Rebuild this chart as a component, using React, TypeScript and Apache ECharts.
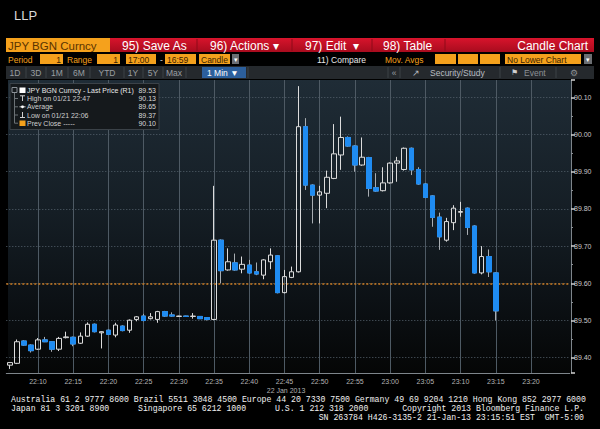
import React, { useEffect, useRef } from "react";
import * as echarts from "echarts";

// ---------- data ----------
const times: string[] = [];
for (let m = 6; m <= 85; m++) {
  times.push(`${22 + Math.floor(m / 60)}:${String(m % 60).padStart(2, "0")}`);
}

const gridTimes = [
  "22:10", "22:15", "22:20", "22:25", "22:30", "22:35", "22:40", "22:45",
  "22:50", "22:55", "23:00", "23:05", "23:10", "23:15", "23:20",
];

const opens = [
  89.380, 89.385, 89.445, 89.434, 89.423, 89.448, 89.443, 89.423, 89.454, 89.455,
  89.439, 89.458, 89.490, 89.467, 89.474, 89.461, 89.485, 89.474, 89.503, 89.512,
  89.505, 89.503, 89.524, 89.515, 89.511, 89.512, 89.511, 89.511, 89.508, 89.503,
  89.716, 89.636, 89.655, 89.638, 89.649, 89.631, 89.622, 89.658, 89.674, 89.575,
  89.616, 89.631, 90.021, 89.864, 89.837, 89.842, 89.882, 89.945, 89.992, 89.969,
  89.918, 89.938, 89.857, 89.849, 89.870, 89.923, 89.906, 89.963, 89.906, 89.867,
  89.835, 89.778, 89.716, 89.763, 89.791, 89.802, 89.754, 89.628, 89.672, 89.628,
];
const closes = [
  89.387, 89.443, 89.434, 89.419, 89.448, 89.443, 89.423, 89.452, 89.456, 89.437,
  89.458, 89.490, 89.470, 89.470, 89.463, 89.488, 89.473, 89.501, 89.510, 89.500,
  89.510, 89.524, 89.512, 89.512, 89.512, 89.511, 89.512, 89.505, 89.503, 89.716,
  89.634, 89.658, 89.636, 89.651, 89.628, 89.625, 89.663, 89.676, 89.575, 89.618,
  89.631, 90.021, 89.864, 89.837, 89.846, 89.885, 89.948, 89.992, 89.969, 89.918,
  89.939, 89.855, 89.848, 89.870, 89.923, 89.929, 89.963, 89.905, 89.867, 89.831,
  89.777, 89.725, 89.766, 89.802, 89.793, 89.750, 89.628, 89.672, 89.631, 89.526,
];
const lows = [
  89.370, 89.383, 89.432, 89.414, 89.421, 89.442, 89.416, 89.418, 89.452, 89.431,
  89.437, 89.456, 89.468, 89.425, 89.461, 89.455, 89.471, 89.467, 89.498, 89.498,
  89.503, 89.494, 89.510, 89.510, 89.510, 89.510, 89.505, 89.504, 89.500, 89.501,
  89.600, 89.634, 89.634, 89.627, 89.626, 89.622, 89.611, 89.638, 89.573, 89.573,
  89.614, 89.629, 89.851, 89.761, 89.761, 89.802, 89.880, 89.905, 89.967, 89.900,
  89.916, 89.833, 89.846, 89.847, 89.868, 89.873, 89.903, 89.891, 89.865, 89.829,
  89.752, 89.690, 89.712, 89.743, 89.779, 89.730, 89.626, 89.624, 89.617, 89.500,
];
const highs = [
  89.388, 89.449, 89.447, 89.436, 89.453, 89.456, 89.445, 89.456, 89.470, 89.457,
  89.468, 89.495, 89.492, 89.471, 89.476, 89.494, 89.487, 89.503, 89.512, 89.518,
  89.520, 89.526, 89.526, 89.522, 89.513, 89.513, 89.520, 89.512, 89.509, 89.862,
  89.718, 89.694, 89.680, 89.672, 89.663, 89.656, 89.665, 89.694, 89.676, 89.636,
  89.645, 90.130, 90.044, 89.866, 89.862, 89.903, 90.028, 90.048, 89.995, 89.971,
  89.992, 89.940, 89.896, 89.912, 89.925, 89.940, 89.965, 89.965, 89.912, 89.869,
  89.837, 89.790, 89.776, 89.810, 89.819, 89.804, 89.756, 89.700, 89.691, 89.630,
];

const yMin = 89.359;
const yMax = 90.1465;
const refLine = 89.6;
const lastPrice = 89.53;

const legendLabels = [
  "JPY BGN Curncy - Last Price (R1)",
  "High on 01/21 22:47",
  "Average",
  "Low on 01/21 22:06",
  "Prev Close -----",
];
const legendValues = ["89.53", "90.13", "89.65", "89.37", "90.10"];

const footer1 =
  "Australia 61 2 9777 8600 Brazil 5511 3048 4500 Europe 44 20 7330 7500 Germany 49 69 9204 1210 Hong Kong 852 2977 6000";
const footer2a = "Japan 81 3 3201 8900";
const footer2b = "Singapore 65 6212 1000";
const footer2c = "U.S. 1 212 318 2000";
const footer2d = "Copyright 2013 Bloomberg Finance L.P.";
const footer3 = "SN 263784 H426-3135-2 21-Jan-13 23:15:51 EST  GMT-5:00";

// ---------- styling helpers ----------
const SANS = "'Liberation Sans', Arial, sans-serif";
const MONO = "'Liberation Mono', 'DejaVu Sans Mono', monospace";
const ORANGE = "#f5a11c";
const BLUE = "#1f8cf2";

function T(text: string, x: number, y: number, size: number, fill: string, align = "left", family = SANS, z = 20) {
  return {
    type: "text",
    x,
    y,
    z,
    silent: true,
    style: {
      text,
      fill,
      fontSize: size,
      fontFamily: family,
      align,
      textAlign: align,
      verticalAlign: "middle",
      textVerticalAlign: "middle",
    },
  };
}
function R(x: number, y: number, w: number, h: number, fill: any, stroke?: string, z = 15) {
  return {
    type: "rect",
    z,
    silent: true,
    shape: { x, y, width: w, height: h },
    style: stroke ? { fill, stroke, lineWidth: 1 } : { fill },
  };
}
function L(x1: number, y1: number, x2: number, y2: number, stroke: string, w = 1, z = 20) {
  return {
    type: "line",
    z,
    silent: true,
    shape: { x1, y1, x2, y2 },
    style: { stroke, lineWidth: w },
  };
}

export default function App() {
  const ref = useRef<HTMLDivElement>(null);

  useEffect(() => {
    document.body.style.margin = "0";
    document.body.style.background = "#000";
    if (!ref.current) return;
    const chart = echarts.init(ref.current, undefined, { renderer: "svg" });

    const candles = opens.map((o, i) => [o, closes[i], lows[i], highs[i]]);
    const downBodies = opens.map((o, i) =>
      closes[i] < o ? [o, closes[i], closes[i], o] : ["-", "-", "-", "-"]
    );

    const redGrad = new echarts.graphic.LinearGradient(0, 0, 0, 1, [
      { offset: 0, color: "#d8142c" },
      { offset: 1, color: "#a80c1e" },
    ]);
    const bgGrad = new echarts.graphic.LinearGradient(0, 0, 0, 1, [
      { offset: 0, color: "#1f2c36" },
      { offset: 0.45, color: "#151e25" },
      { offset: 0.75, color: "#0c1115" },
      { offset: 1, color: "#050606" },
    ]);

    const graphic: any[] = [];
    graphic.push({ ...R(8, 80, 563, 293, bgGrad), z: -10 });

    graphic.push(T("LLP", 14, 15, 13, "#d8d8d8"));

    // row 1
    graphic.push(R(6, 38, 104, 14, ORANGE));
    graphic.push(T("JPY BGN Curncy", 8, 45.5, 11.5, "#5a3400"));
    graphic.push(R(110, 38, 484, 14, redGrad));
    [197, 292, 372, 445].forEach((x) => graphic.push(L(x, 39, x, 51, "#8e0a19", 1, 16)));
    graphic.push(T("95) Save As", 122, 45.5, 12, "#ffffff"));
    graphic.push(T("96) Actions \u25be", 210, 45.5, 12, "#ffffff"));
    graphic.push(T("97) Edit  \u25be", 305, 45.5, 12, "#ffffff"));
    graphic.push(T("98) Table", 383, 45.5, 12, "#ffffff"));
    graphic.push(T("Candle Chart", 588, 45.5, 12, "#ffffff", "right"));

    // row 2
    const r2y = 54, r2h = 10, r2c = 59.5;
    graphic.push(T("Period", 8, r2c, 8.5, ORANGE));
    graphic.push(R(40, r2y, 23, r2h, ORANGE));
    graphic.push(T("1", 61, r2c, 8.5, "#3a2200", "right"));
    graphic.push(T("Range", 67, r2c, 8.5, ORANGE));
    graphic.push(R(97, r2y, 23, r2h, ORANGE));
    graphic.push(T("1", 118, r2c, 8.5, "#3a2200", "right"));
    graphic.push(R(126, r2y, 30, r2h, ORANGE));
    graphic.push(T("17:00", 128, r2c, 8.5, "#3a2200"));
    graphic.push(T("-", 160, r2c, 8.5, "#dddddd"));
    graphic.push(R(165, r2y, 31, r2h, ORANGE));
    graphic.push(T("16:59", 167, r2c, 8.5, "#3a2200"));
    graphic.push(R(199, r2y, 31, r2h, ORANGE));
    graphic.push(T("Candle", 201, r2c, 8.5, "#3a2200"));
    graphic.push(R(232, r2y, 7, r2h, "#6b6e72"));
    graphic.push(T("\u25be", 235.5, r2c, 7, "#ffffff", "center"));
    graphic.push(T("11) Compare", 317, r2c, 8.5, "#e8e8e8"));
    graphic.push(T("Mov. Avgs", 385, r2c, 8.5, ORANGE));
    graphic.push(R(435, r2y, 21, r2h, ORANGE));
    graphic.push(R(458, r2y, 20, r2h, ORANGE));
    graphic.push(R(480, r2y, 20, r2h, ORANGE));
    graphic.push(R(505, r2y, 76, r2h, ORANGE));
    graphic.push(T("No Lower Chart", 507, r2c, 8.5, "#3a2200"));
    graphic.push(R(584, r2y, 8, r2h, "#6b6e72"));
    graphic.push(T("\u25be", 588, r2c, 7, "#ffffff", "center"));

    // row 3
    const r3y = 66, r3h = 13, r3c = 72.5;
    graphic.push(R(6, r3y, 588, r3h, "#25292d"));
    [26, 46, 68, 90, 124, 143, 163, 186, 248, 388, 400, 500, 556].forEach((x) =>
      graphic.push(L(x, r3y + 1, x, r3y + r3h - 1, "#3d4246", 1, 16))
    );
    [["1D", 15], ["3D", 36], ["1M", 57], ["6M", 79], ["YTD", 107], ["1Y", 133], ["5Y", 153], ["Max", 174]].forEach(
      ([t, x]) => graphic.push(T(t as string, x as number, r3c, 8.5, "#9a9ea2", "center"))
    );
    graphic.push(R(202, r3y + 1, 44, r3h - 2, "#2c5f9c"));
    graphic.push(T("1 Min \u25bc", 207, r3c, 8.5, "#ffffff"));
    graphic.push(T("\u00ab", 394, r3c, 8.5, "#9a9ea2", "center"));
    graphic.push(T("\u2197", 416, r3c, 9, "#b8bcc0", "center"));
    graphic.push(T("Security/Study", 430, r3c, 8.5, "#b8bcc0"));
    graphic.push(T("\u2691", 514, r3c, 8, "#d0d0d0", "center"));
    graphic.push(T("Event", 524, r3c, 8.5, "#8c9094"));
    graphic.push(T("\u2699", 574, r3c, 9, "#8c9094", "center"));

    // legend box
    graphic.push(R(10, 83.5, 149, 46, "#15191c", "#3b4248", 30));
    const rowsY = [90, 98.5, 106.8, 115, 123.2];
    graphic.push(L(14.5, 92, 14.5, 123.2, "#6c7276", 1, 31));
    rowsY.slice(1).forEach((y) => graphic.push(L(14.5, y, 18, y, "#6c7276", 1, 31)));
    graphic.push({ ...R(12, 87.5, 5, 5, "#15191c", "#8a9096", 31) });
    graphic.push(R(19.5, 87.5, 6, 5.5, "#ffffff", undefined, 31));
    graphic.push(L(20, 95.8, 25, 95.8, "#d0d0d0", 1, 31));
    graphic.push(L(22.5, 95.8, 22.5, 101, "#d0d0d0", 1, 31));
    graphic.push(L(19.5, 106.8, 25.5, 106.8, "#d0d0d0", 1, 31));
    graphic.push({ type: "circle", z: 31, silent: true, shape: { cx: 22.5, cy: 106.8, r: 1.4 }, style: { fill: "#ffffff" } });
    graphic.push(L(22.5, 112, 22.5, 117.5, "#d0d0d0", 1, 31));
    graphic.push(L(20, 117.5, 25, 117.5, "#d0d0d0", 1, 31));
    graphic.push(R(19.5, 120.5, 6, 5.5, ORANGE, undefined, 31));
    legendLabels.forEach((t, i) => {
      graphic.push(T(t, 27, rowsY[i], 7, i === 0 ? "#e8e8e8" : "#cfcfcf", "left", SANS, 32));
      graphic.push(T(legendValues[i], 156, rowsY[i], 7, "#d8d8d8", "right", SANS, 32));
    });

    graphic.push(T("22 Jan 2013", 286, 390, 7, "#b0b0b0", "center"));

    graphic.push(T(footer1, 11, 399.5, 8.2, "#f0f0f0", "left", MONO));
    graphic.push(T(footer2a, 11, 408.5, 8.2, "#f0f0f0", "left", MONO));
    graphic.push(T(footer2b, 138, 408.5, 8.2, "#f0f0f0", "left", MONO));
    graphic.push(T(footer2c, 275, 408.5, 8.2, "#f0f0f0", "left", MONO));
    graphic.push(T(footer2d, 584, 408.5, 8.2, "#f0f0f0", "right", MONO));
    graphic.push(T(footer3, 584, 417.5, 8.2, "#f0f0f0", "right", MONO));

    const vLines = gridTimes.map((t) => ({
      xAxis: t,
      lineStyle: { color: "#4e5a64", type: "solid", width: 1 },
      label: { show: false },
    }));

    chart.setOption({
      animation: false,
      backgroundColor: "#000000",
      graphic,
      grid: { left: 6.3, right: 30.25, top: 80, bottom: 56, containLabel: false },
      xAxis: {
        type: "category",
        data: times,
        boundaryGap: true,
        axisLine: { show: true, lineStyle: { color: "#7e858b" } },
        axisTick: { show: false },
        axisLabel: {
          interval: (_i: number, v: string) => gridTimes.includes(v),
          color: "#b4b4b4",
          fontFamily: SANS,
          fontSize: 7,
          margin: 5,
        },
        splitLine: { show: false },
      },
      yAxis: {
        type: "value",
        position: "right",
        min: yMin,
        max: yMax,
        splitNumber: 8,
        offset: 1.25,
        scale: true,
        axisLine: { show: true, lineStyle: { color: "#7e858b" } },
        axisTick: { show: true, length: 4, lineStyle: { color: "#d0d0d0", width: 1.5 } },
        minorTick: { show: true, splitNumber: 2, length: 2, lineStyle: { color: "#8a9096" } },
        axisLabel: {
          color: "#c8c8c8",
          fontFamily: SANS,
          fontSize: 7,
          margin: 3,
          formatter: (v: number) =>
            Math.abs(v * 10 - Math.round(v * 10)) < 1e-6 ? v.toFixed(2) : "",
        },
        splitLine: {
          show: true,
          showMinLine: false,
          showMaxLine: false,
          lineStyle: { color: "#55626d", type: [1, 2], width: 1 },
        },
      },
      series: [
        {
          type: "candlestick",
          name: "JPY BGN Curncy",
          data: candles,
          barWidth: 5,
          z: 3,
          itemStyle: {
            color: "rgba(0,0,0,0)",
            color0: BLUE,
            borderColor: "#dcdcdc",
            borderColor0: "#a8adb2",
            borderColorDoji: "#dcdcdc",
            borderWidth: 1,
          },
          markLine: {
            silent: true,
            z: 1,
            symbol: ["none", "none"],
            data: [
              ...vLines,
              {
                yAxis: refLine,
                lineStyle: { color: "#cf7d22", type: [2, 2], width: 1.5 },
                label: { show: false },
              },
              {
                yAxis: lastPrice,
                lineStyle: { opacity: 0 },
                label: {
                  show: true,
                  position: "end",
                  distance: 3,
                  formatter: lastPrice.toFixed(2),
                  backgroundColor: "#f2f2f2",
                  color: "#111",
                  fontFamily: SANS,
                  fontSize: 7,
                  padding: [1, 2, 0, 2],
                },
              },
            ],
          },
        },
        {
          type: "candlestick",
          data: downBodies,
          barWidth: 5,
          z: 4,
          silent: true,
          itemStyle: {
            color: BLUE,
            color0: BLUE,
            borderColor: BLUE,
            borderColor0: BLUE,
            borderWidth: 1,
          },
        },
      ],
    });

    return () => chart.dispose();
  }, []);

  return <div ref={ref} style={{ width: 600, height: 429, background: "#000" }} />;
}
